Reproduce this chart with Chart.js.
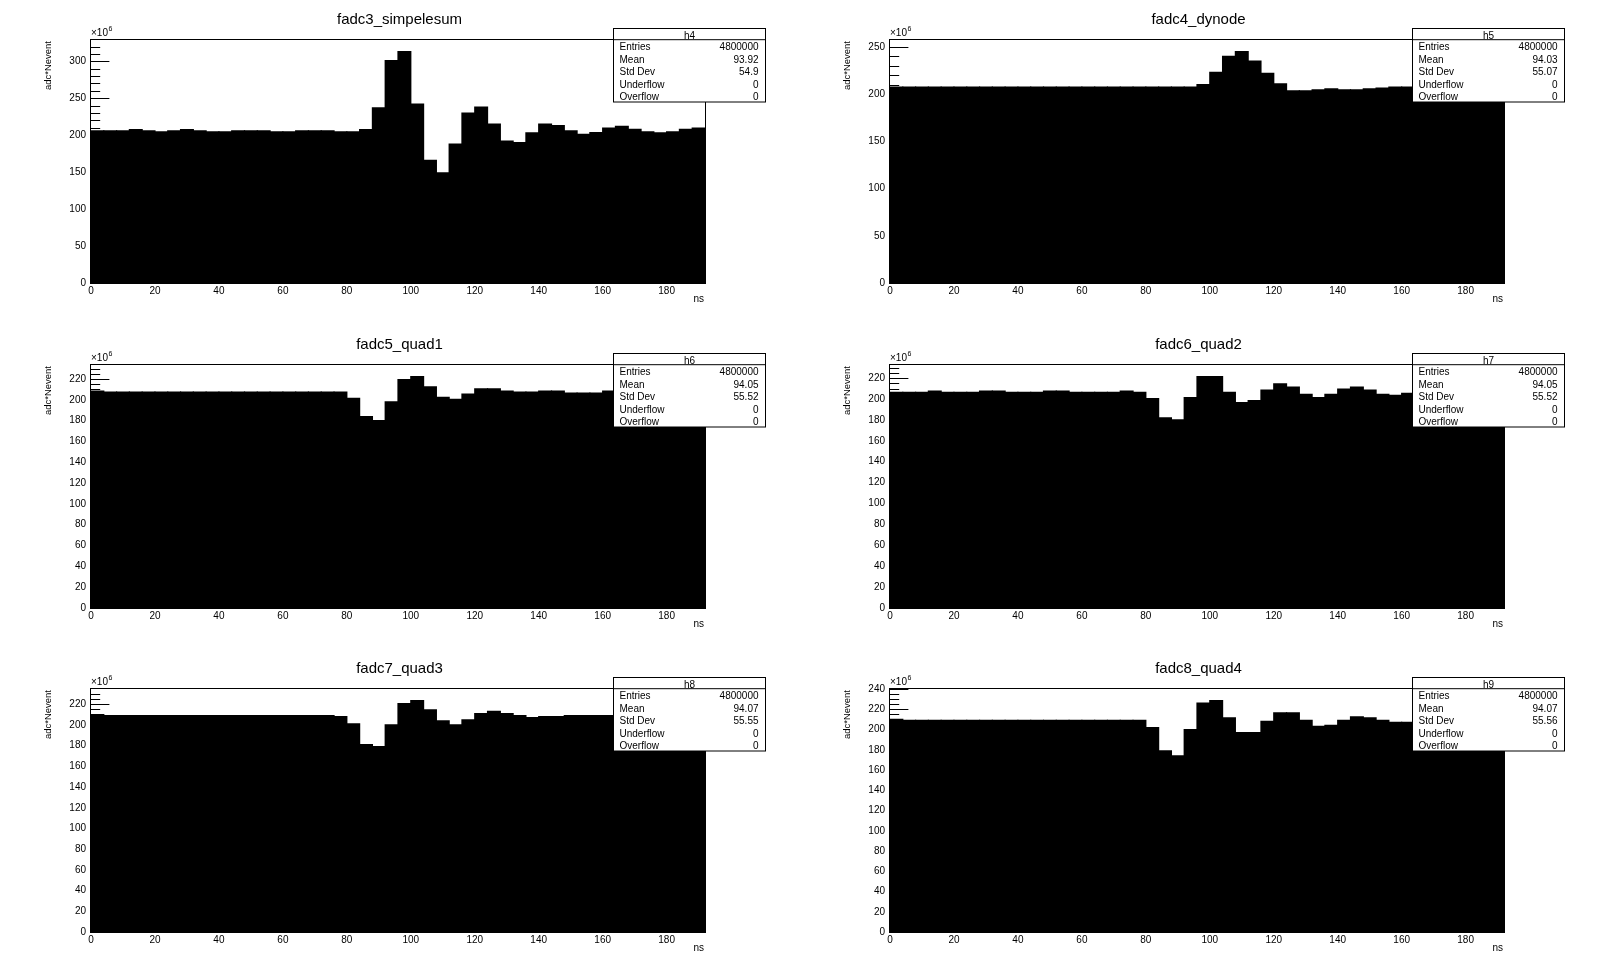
<!DOCTYPE html>
<html>
<head>
<meta charset="utf-8">
<title>fadc histograms</title>
<script src="https://cdn.jsdelivr.net/npm/chart.js@4.4.1/dist/chart.umd.min.js"></script>
<style>
  html, body { margin: 0; padding: 0; background: #fff; }
  body { width: 1598px; height: 974px; position: relative; overflow: hidden; }
  canvas { position: absolute; }
</style>
</head>
<body>
<canvas id="c0" width="799" height="325" style="left:0px;top:0px"></canvas>
<canvas id="c1" width="799" height="325" style="left:799px;top:0px"></canvas>
<canvas id="c2" width="799" height="324" style="left:0px;top:325px"></canvas>
<canvas id="c3" width="799" height="324" style="left:799px;top:325px"></canvas>
<canvas id="c4" width="799" height="325" style="left:0px;top:649px"></canvas>
<canvas id="c5" width="799" height="325" style="left:799px;top:649px"></canvas>
<script>
// bin centres in ns (48 bins of 4 ns, 0..192)
const binCenters = [2, 6, 10, 14, 18, 22, 26, 30, 34, 38, 42, 46, 50, 54, 58, 62, 66, 70, 74, 78, 82, 86, 90, 94,
    98, 102, 106, 110, 114, 118, 122, 126, 130, 134, 138, 142, 146, 150, 154, 158, 162, 166, 170, 174, 178, 182, 186, 190];

// adc*Nevent, in units of 10^6
const fadc3 = [206, 206, 206, 207.5, 206, 204.5, 206, 207.5, 206, 204.5, 204.5, 206, 206, 206, 204.5, 204.5, 206, 206, 206, 204.5, 204.5, 207.5,
    237, 301, 313, 242, 166, 149, 188, 230, 238, 215, 192, 190, 203, 215, 213, 206, 201, 203.5, 209.5, 212, 208, 204.5, 203, 204.5, 208, 209.5];
const fadc4 = [207.5, 207.5, 207.5, 207.5, 207.5, 207.5, 207.5, 207.5, 207.5, 207.5, 207.5, 207.5, 207.5, 207.5, 207.5, 207.5, 207.5, 207.5, 207.5, 207.5, 207.5, 207.5, 207.5, 207.5,
    210, 223, 240, 245, 235, 222, 211, 203.5, 203.5, 204.5, 205.5, 204.5, 204.5, 205.5, 206.5, 207.5, 207.5, 207.5, 207.5, 207.5, 207.5, 207.5, 207.5, 207.5];
const fadc5 = [208.5, 207.5, 207.5, 207.5, 207.5, 207.5, 207.5, 207.5, 207.5, 207.5, 207.5, 207.5, 207.5, 207.5, 207.5, 207.5, 207.5, 207.5, 207.5, 207.5,
    201.5, 184, 180, 198, 219.5, 222.4, 212.5, 202.5, 200.5, 205.5, 210.5, 210.5, 208.5, 207.5, 207.5, 208.5, 208.5, 206.5, 206.5, 206.5, 208.5,
    207.5, 207.5, 207.5, 207.5, 207.5, 207.5, 207.5];
const fadc6 = [206.5, 206.5, 206.5, 207.5, 206.5, 206.5, 206.5, 207.5, 207.5, 206.5, 206.5, 206.5, 207.5, 207.5, 206.5, 206.5, 206.5, 206.5, 207.5, 206.5,
    200.5, 182, 180, 201.5, 221.5, 221.5, 206.5, 196.5, 198.5, 208.5, 214.5, 211.5, 204.5, 201.5, 204.5, 209.5, 211.5, 208.5, 204.5, 203.5, 205.5,
    206.5, 206.5, 206.5, 206.5, 206.5, 206.5, 206.5];
const fadc7 = [210, 209, 209, 209, 209, 209, 209, 209, 209, 209, 209, 209, 209, 209, 209, 209, 209, 209, 209, 208,
    201, 181, 179, 200, 220.5, 223.5, 214.5, 204, 200, 205, 211, 213, 211, 209, 207, 208, 208, 209, 209, 209, 209,
    209, 209, 209, 209, 209, 209, 209];
const fadc8 = [210, 209, 209, 209, 209, 209, 209, 209, 209, 209, 209, 209, 209, 209, 209, 209, 209, 209, 209, 209,
    202, 179, 174, 200, 226, 228.6, 211.5, 197, 197, 208, 216.5, 216.5, 209, 203, 204, 209, 212.5, 211.5, 209, 207, 207,
    207, 207, 207, 207, 207, 207, 207];

const xTicks = [0, 20, 40, 60, 80, 100, 120, 140, 160, 180];
const yTicks50 = [0, 50, 100, 150, 200, 250, 300];
const yTicks20 = [0, 20, 40, 60, 80, 100, 120, 140, 160, 180, 200, 220, 240];

const titles = ['fadc3_simpelesum', 'fadc4_dynode', 'fadc5_quad1', 'fadc6_quad2', 'fadc7_quad3', 'fadc8_quad4'];
const histNames = ['h4', 'h5', 'h6', 'h7', 'h8', 'h9'];
const entries = ['4800000', '4800000', '4800000', '4800000', '4800000', '4800000'];
const means = ['93.92', '94.03', '94.05', '94.05', '94.07', '94.07'];
const stdDevs = ['54.9', '55.07', '55.52', '55.52', '55.55', '55.56'];
const yTops = [328.8, 257.3, 233.5, 232.6, 234.7, 240];

const series = [fadc3, fadc4, fadc5, fadc6, fadc7, fadc8];
const FONT = '"Liberation Sans", Arial, Helvetica, sans-serif';

// ROOT style frame, inner ticks, titles and stats box
const rootStyle = {
    id: 'rootStyle',
    afterDraw(chart, args, o) {
        const ctx = chart.ctx;
        const a = chart.chartArea;
        const ys = chart.scales.y;
        ctx.save();
        ctx.strokeStyle = '#000';
        ctx.fillStyle = '#000';
        ctx.lineWidth = 1;

        // y ticks pointing into the frame
        ctx.beginPath();
        for (let v = 0; v <= o.top + 1e-6; v += o.minor) {
            const py = Math.round(ys.getPixelForValue(v)) + 0.5;
            const major = Math.abs(v / o.major - Math.round(v / o.major)) < 1e-6;
            ctx.moveTo(a.left, py);
            ctx.lineTo(a.left + (major ? 18.4 : 9.2), py);
        }
        ctx.stroke();

        // frame
        ctx.strokeRect(Math.round(a.left) - 0.5, Math.round(a.top) - 0.5, Math.round(a.right - a.left) + 1, Math.round(a.bottom - a.top) + 1);

        // title
        ctx.font = '15px ' + FONT;
        ctx.textAlign = 'center';
        ctx.textBaseline = 'middle';
        ctx.fillText(o.title, 399.5, 19.5);

        // x10^6
        ctx.font = '10px ' + FONT;
        ctx.textAlign = 'left';
        ctx.textBaseline = 'alphabetic';
        ctx.fillText('\u00d710', a.left, 36);
        const w = ctx.measureText('\u00d710').width;
        ctx.font = '7px ' + FONT;
        ctx.fillText('6', a.left + w + 0.5, 31);

        // axis titles
        ctx.font = '10px ' + FONT;
        ctx.textAlign = 'right';
        ctx.fillText('ns', a.right - 1, a.bottom + 19);
        ctx.save();
        ctx.translate(48, a.top + 1);
        ctx.rotate(-Math.PI / 2);
        ctx.font = '9.5px ' + FONT;
        ctx.textAlign = 'right';
        ctx.textBaseline = 'middle';
        ctx.fillText('adc*Nevent', 0, 0);
        ctx.restore();

        // stats box
        const bx = 613.5, by = 28.5, bw = 152, bh = 73.5, hh = 11.2;
        ctx.fillStyle = '#fff';
        ctx.fillRect(bx, by, bw, bh);
        ctx.strokeRect(bx, by, bw, bh);
        ctx.beginPath();
        ctx.moveTo(bx, by + hh);
        ctx.lineTo(bx + bw, by + hh);
        ctx.stroke();
        ctx.fillStyle = '#000';
        ctx.font = '10px ' + FONT;
        ctx.textBaseline = 'middle';
        ctx.textAlign = 'center';
        ctx.fillText(o.name, bx + bw / 2, by + hh / 2 + 1.8);
        const rows = [['Entries', o.entries], ['Mean', o.mean], ['Std Dev', o.std], ['Underflow', '0'], ['Overflow', '0']];
        const rh = (bh - hh) / rows.length;
        rows.forEach((r, i) => {
            const ry = by + hh + rh * (i + 0.5) + 1.8;
            ctx.textAlign = 'left';
            ctx.fillText(r[0], bx + 6, ry);
            ctx.textAlign = 'right';
            ctx.fillText(r[1], bx + bw - 7, ry);
        });
        ctx.restore();
    }
};

document.addEventListener('DOMContentLoaded', () => {
    Chart.defaults.font.family = FONT;
    Chart.defaults.color = '#000';

    series.forEach((values, i) => {
        const canvas = document.getElementById('c' + i);
        const big = i < 2;
        const axisHeight = canvas.height - 283;
        new Chart(canvas.getContext('2d'), {
            type: 'bar',
            data: {
                labels: binCenters,
                datasets: [{
                    data: values,
                    backgroundColor: '#000',
                    borderWidth: 0,
                    inflateAmount: 0.6,
                    barPercentage: 1,
                    categoryPercentage: 1
                }]
            },
            options: {
                responsive: false,
                animation: false,
                events: [],
                layout: { padding: { top: 40, right: 94, left: 0, bottom: 0 } },
                scales: {
                    x: { type: 'category', display: false, offset: true },
                    xt: {
                        type: 'linear',
                        position: 'bottom',
                        offset: false,
                        min: 0,
                        max: 192,
                        afterBuildTicks: s => { s.ticks = xTicks.map(v => ({ value: v })); },
                        afterFit: s => { s.height = axisHeight; },
                        ticks: { font: { size: 10 }, color: '#000', padding: 2, autoSkip: false, maxRotation: 0 },
                        grid: { display: false, drawTicks: false, offset: false },
                        border: { display: false }
                    },
                    y: {
                        min: 0,
                        max: yTops[i],
                        afterBuildTicks: s => {
                            s.ticks = (big ? yTicks50 : yTicks20).filter(v => v <= yTops[i]).map(v => ({ value: v }));
                        },
                        afterFit: s => { s.width = 91; },
                        ticks: { font: { size: 10 }, color: '#000', padding: 5, autoSkip: false },
                        grid: { display: false, drawTicks: false },
                        border: { display: false }
                    }
                },
                plugins: {
                    legend: { display: false },
                    tooltip: { enabled: false },
                    rootStyle: {
                        title: titles[i],
                        name: histNames[i],
                        entries: entries[i],
                        mean: means[i],
                        std: stdDevs[i],
                        top: yTops[i],
                        major: big ? 50 : 20,
                        minor: big ? 10 : 5
                    }
                }
            },
            plugins: [rootStyle]
        });
    });
});
</script>
</body>
</html>
